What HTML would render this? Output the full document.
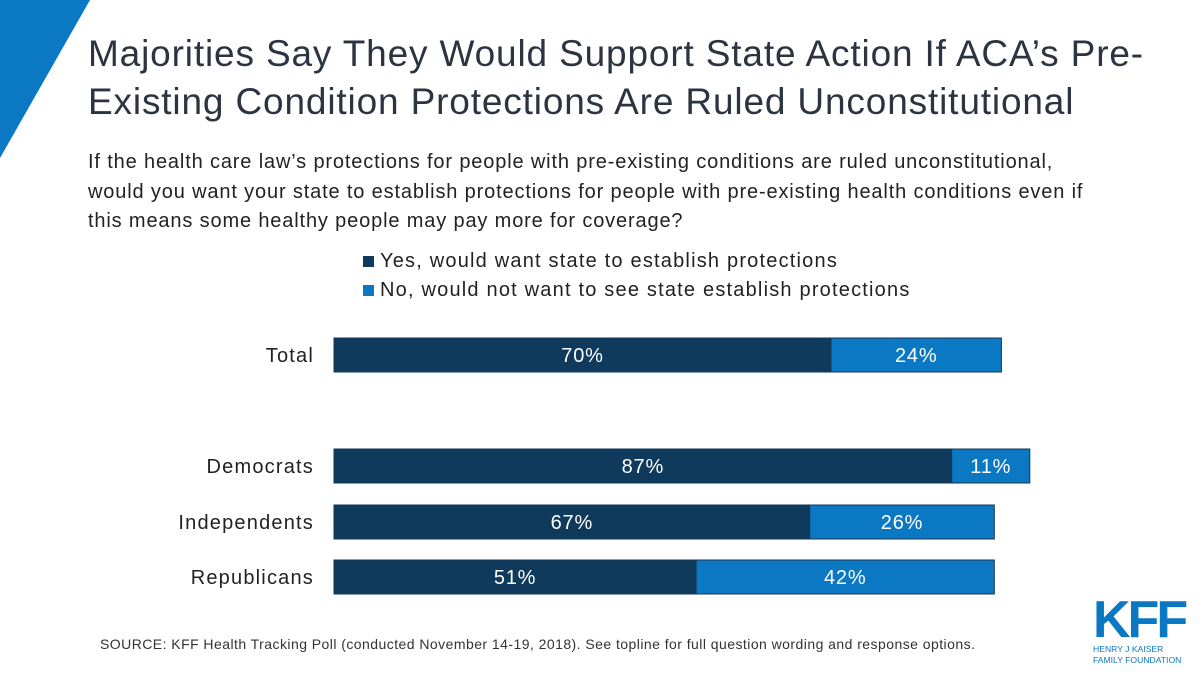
<!DOCTYPE html>
<html><head><meta charset="utf-8"><style>
body{margin:0;width:1200px;height:675px;background:#fff;font-family:"Liberation Sans",sans-serif;position:relative;overflow:hidden}
.t{position:absolute;white-space:nowrap}
</style></head><body>
<svg style="position:absolute;left:0;top:0" width="100" height="170"><polygon points="0,0 90,0 0,158" fill="#0b78c3"/></svg>
<div class="t" style="left:88px;top:30px;font-size:37px;line-height:48px;color:#2b3440;letter-spacing:0.85px">Majorities Say They Would Support State Action If ACA’s Pre-<br>Existing Condition Protections Are Ruled Unconstitutional</div>
<div class="t" style="left:88px;top:148px;font-size:20px;line-height:29.5px;color:#222;letter-spacing:0.85px">If the health care law’s protections for people with pre-existing conditions are ruled unconstitutional,<br>would you want your state to establish protections for people with pre-existing health conditions even if<br>this means some healthy people may pay more for coverage?</div>
<div class="t" style="left:363px;top:250px;font-size:20px;color:#222;letter-spacing:1.2px"><span style="display:inline-block;width:11px;height:11px;background:#0f3a5c;margin-right:6px"></span>Yes, would want state to establish protections</div>
<div class="t" style="left:363px;top:279px;font-size:20px;color:#222;letter-spacing:1.2px"><span style="display:inline-block;width:11px;height:11px;background:#0b78c3;margin-right:6px"></span>No, would not want to see state establish protections</div>
<svg id="chart" style="position:absolute;left:0;top:0" width="1200" height="675"></svg>
<div class="t" style="left:100px;top:636px;font-size:14px;color:#333;letter-spacing:0.45px">SOURCE: KFF Health Tracking Poll (conducted November 14-19, 2018). See topline for full question wording and response options.</div>
<div class="t" style="left:1093px;top:596px;color:#0b78c3">
<div style="font-size:52px;font-weight:bold;line-height:48px;letter-spacing:-3px">KFF</div>
<div style="font-size:8.6px;line-height:10.5px">HENRY J KAISER<br>FAMILY FOUNDATION</div></div>
<script>
const categories=["Total","Democrats","Independents","Republicans"];
const yesVals=[70,87,67,51];
const noVals=[24,11,26,42];
const rowY=[338,449,505,560];
const svg=document.getElementById('chart');
const NS='http://www.w3.org/2000/svg';
const x0=334,scale=7.1,h=34;
const xs=v=>x0+v*scale;
function mk(tag,attrs){const e=document.createElementNS(NS,tag);for(const k in attrs)e.setAttribute(k,attrs[k]);svg.appendChild(e);return e;}
categories.forEach((c,i)=>{
const y=rowY[i];
const l=mk('text',{x:314,y:y+h/2+7,'text-anchor':'end','font-size':20,fill:'#222','font-family':'Liberation Sans','letter-spacing':'1.2'});l.textContent=c;


const a=mk('rect',{x:x0,y:y,width:yesVals[i]*scale,height:h,fill:'#0f3a5c',stroke:'#0f3a5c','stroke-width':1});


const b=mk('rect',{x:xs(yesVals[i]),y:y,width:noVals[i]*scale,height:h,fill:'#0b78c3',stroke:'#1a3550','stroke-width':1});


const ta=mk('text',{x:x0+yesVals[i]*scale/2,y:y+h/2+7,'text-anchor':'middle','font-size':20,fill:'#fff','font-family':'Liberation Sans','letter-spacing':'0.8'});ta.textContent=yesVals[i]+'%';


const tb=mk('text',{x:xs(yesVals[i])+noVals[i]*scale/2,y:y+h/2+7,'text-anchor':'middle','font-size':20,fill:'#fff','font-family':'Liberation Sans','letter-spacing':'0.8'});tb.textContent=noVals[i]+'%';


});
</script>
</body></html>
